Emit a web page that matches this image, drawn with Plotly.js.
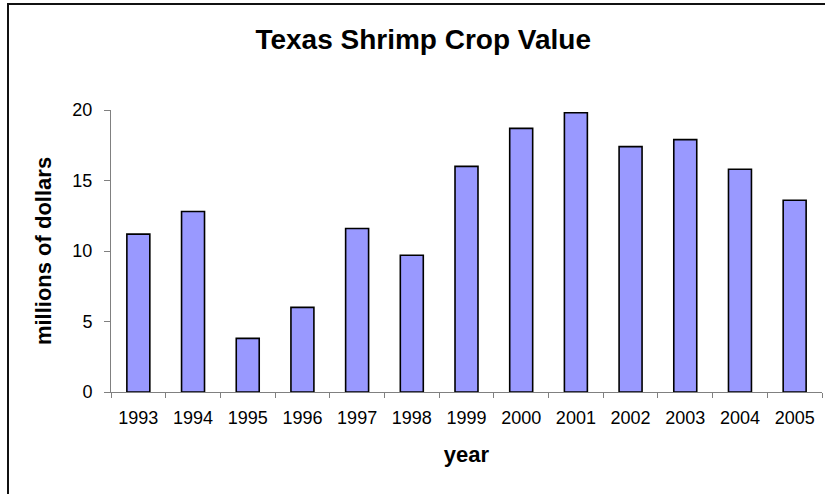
<!DOCTYPE html>
<html>
<head>
<meta charset="utf-8">
<script src="https://cdn.plot.ly/plotly-3.0.1.min.js"></script>
<style>
  html, body { margin: 0; padding: 0; background: #fff; overflow: hidden; }
  #wrap { position: relative; width: 825px; height: 494px; overflow: hidden; }
  #chart { width: 825px; height: 494px; }
  /* outer chart-area frame (left and top edges visible) */
  #frame { position: absolute; left: 7px; top: 3px; width: 840px; height: 520px;
           border: 2px solid #111; pointer-events: none; box-sizing: border-box; }
</style>
</head>
<body>
<div id="wrap">
  <div id="chart"></div>
  <div id="frame"></div>
</div>
<script>
// Texas shrimp crop value, millions of dollars
const years = ['1993','1994','1995','1996','1997','1998','1999','2000','2001','2002','2003','2004','2005'];
const cropValue = [11.2, 12.8, 3.8, 6.0, 11.6, 9.7, 16.0, 18.7, 19.8, 17.4, 17.9, 15.8, 13.6];
const yTicks = [0, 5, 10, 15, 20];

const FONT = 'Arial, "Liberation Sans", sans-serif';

const trace = {
  type: 'bar',
  x: years,
  y: cropValue,
  marker: { color: '#9999FF', line: { color: '#000000', width: 1.6 } },
  hoverinfo: 'x+y'
};

const layout = {
  width: 825,
  height: 494,
  margin: { l: 111, r: 3, t: 110, b: 102, pad: 0 },
  paper_bgcolor: '#ffffff',
  plot_bgcolor: '#ffffff',
  showlegend: false,
  bargap: 0.58,
  font: { family: FONT, color: '#000000' },
  title: {
    text: '<b>Texas Shrimp Crop Value</b>',
    font: { family: FONT, size: 28, color: '#000000' },
    x: 0.513, xref: 'container', xanchor: 'center',
    y: 0.921, yref: 'container', yanchor: 'middle'
  },
  xaxis: {
    type: 'category',
    tickson: 'boundaries',
    ticks: 'outside',
    ticklen: 5,
    tickwidth: 1,
    tickcolor: '#808080',
    showline: true,
    linecolor: '#808080',
    linewidth: 1,
    showgrid: false,
    zeroline: false,
    ticklabelstandoff: 9,
    tickfont: { family: FONT, size: 18, color: '#000000' },
    title: { text: '<b>year</b>', font: { family: FONT, size: 22, color: '#000000' }, standoff: 20 },
    fixedrange: true
  },
  yaxis: {
    range: [0, 20],
    tickvals: yTicks,
    ticktext: yTicks.map(String),
    ticks: 'outside',
    ticklen: 6,
    tickwidth: 1,
    tickcolor: '#808080',
    showline: true,
    linecolor: '#808080',
    linewidth: 1,
    showgrid: false,
    zeroline: false,
    ticklabelstandoff: 8,
    tickfont: { family: FONT, size: 18, color: '#000000' },
    title: { text: '<b>millions of dollars</b>', font: { family: FONT, size: 22, color: '#000000' }, standoff: 14 },
    fixedrange: true
  }
};

Plotly.newPlot('chart', [trace], layout, { displayModeBar: false, staticPlot: true });
</script>
</body>
</html>
